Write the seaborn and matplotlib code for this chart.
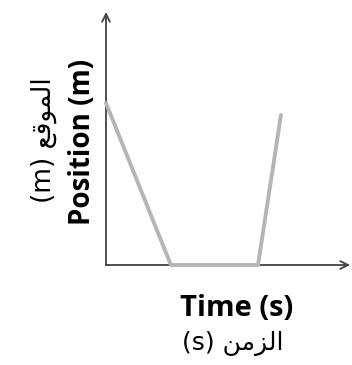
import numpy as np
import pandas as pd
import matplotlib
matplotlib.use("Agg")
import matplotlib.pyplot as plt
import seaborn as sns

# data (axis units 0..10)
time_vals = [0, 2.66, 6.23, 7.17]
position_vals = [6.4, 0, 0, 5.93]

# labels; Arabic written in visual order with presentation forms
xlabel_en = "Time (s)"
ylabel_en = "Position (m)"
xlabel_ar = "(s) \uFEE6\uFEE3\uFEB0\uFEDF\uFE8D"
ylabel_ar = "(m) \uFECA\uFED7\uFEEE\uFEE4\uFEDF\uFE8D"

df = pd.DataFrame({"time": time_vals, "position": position_vals})

sns.set_style("white")
plt.rcParams['font.family'] = ['Open Sans', 'DejaVu Sans']

W, H = 352, 365
fig = plt.figure(figsize=(W / 100, H / 100), dpi=100)
left, right, top, bottom = 106, 350, 12, 265
ax = fig.add_axes([left / W, (H - bottom) / H, (right - left) / W, (bottom - top) / H])

sns.lineplot(data=df, x="time", y="position", sort=False, color="#b5b5b5",
             linewidth=2.8, ax=ax, clip_on=False, zorder=5)

ax.set_xlim(0, 10)
ax.set_ylim(0, 10)
ax.set_xticks([])
ax.set_yticks([])
ax.set_xlabel("")
ax.set_ylabel("")
for s in ax.spines.values():
    s.set_visible(False)

axis_col = "#404040"
ax.annotate("", xy=(1, 0), xytext=(0, 0), xycoords="axes fraction",
            arrowprops=dict(arrowstyle="->", color=axis_col, lw=1.3,
                            mutation_scale=14, shrinkA=0, shrinkB=0))
ax.annotate("", xy=(0, 1), xytext=(0, 0), xycoords="axes fraction",
            arrowprops=dict(arrowstyle="->", color=axis_col, lw=1.3,
                            mutation_scale=14, shrinkA=0, shrinkB=0))

fig.text(237 / W, 1 - 308 / H, xlabel_en, ha="center", va="center",
         fontsize=21, fontweight="bold", color="black")
fig.text(233 / W, 1 - 343 / H, xlabel_ar, ha="center", va="center",
         fontsize=18, color="black", family=['DejaVu Sans'])
fig.text(83 / W, 1 - 142 / H, ylabel_en, ha="center", va="center",
         rotation=90, fontsize=20, fontweight="bold", color="black")
fig.text(44 / W, 1 - 140 / H, ylabel_ar, ha="center", va="center",
         rotation=90, fontsize=19, color="black", family=['DejaVu Sans'])

fig.savefig("out.png", dpi=100)
